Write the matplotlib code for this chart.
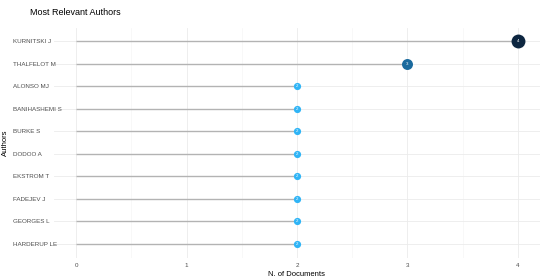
import matplotlib
matplotlib.use("Agg")
import matplotlib.pyplot as plt
import numpy as np
from matplotlib.transforms import ScaledTranslation

authors = ["KURNITSKI J", "THALFELOT M", "ALONSO MJ", "BANIHASHEMI S", "BURKE S",
           "DODOO A", "EKSTROM T", "FADEJEV J", "GEORGES L", "HARDERUP LE"]
docs = [4, 3, 2, 2, 2, 2, 2, 2, 2, 2]
xticks = [0, 1, 2, 3, 4]

plt.rcParams['font.family'] = ['Liberation Sans', 'DejaVu Sans']

fig = plt.figure(figsize=(5.5, 2.79), dpi=100)
ax = fig.add_axes([54/550, 1-257.5/279, 486/550, 230/279])

n = len(authors)
ypos = np.arange(n)[::-1]

def col(v):
    return {4: "#0d2640", 3: "#1a6a9e", 2: "#2fb4f6"}[v]

def msize(v):
    return {4: 10.0, 3: 7.9, 2: 5.2}[v]

for y, v in zip(ypos, docs):
    ax.plot([0, v], [y, y], color="#b3b3b3", lw=1.0, zorder=2, solid_capstyle='butt')
for y, v in zip(ypos, docs):
    ax.plot([v], [y], 'o', ms=msize(v), color=col(v), mec='none', zorder=3)
    ax.text(v, y, str(v), color="white", fontsize=3.2, ha='center', va='center', zorder=4)

ax.set_xlim(-0.2, 4.2)
ax.set_ylim(-0.6, n-1+0.6)
ax.set_xticks(xticks)
ax.set_xticklabels([str(t) for t in xticks])
ax.set_xticks([0.5, 1.5, 2.5, 3.5], minor=True)
ax.set_yticks(ypos)
ax.set_yticklabels(authors)
ax.grid(True, which='major', color="#ebebeb", lw=0.6, zorder=0)
ax.grid(True, which='minor', axis='x', color="#f3f3f3", lw=0.4, zorder=0)
for s in ax.spines.values():
    s.set_visible(False)
ax.tick_params(axis='both', which='both', length=0, labelsize=4.5, labelcolor="#4d4d4d")
ax.tick_params(axis='x', pad=4)
ax.yaxis.set_tick_params(pad=0)
for lab in ax.get_yticklabels():
    lab.set_ha('left')
    lab.set_transform(ax.get_yaxis_transform(which='tick1') + ScaledTranslation(-(54-13)/100, 0, fig.dpi_scale_trans))

ax.set_xlabel("N. of Documents", fontsize=5.5, color="black", labelpad=2)
ax.set_ylabel("Authors", fontsize=5.5, color="black", va='center', ha='center')
ax.yaxis.set_label_coords(-49/486, 0.5)
fig.text(30/550, 1-12.5/279, "Most Relevant Authors", fontsize=6.5, ha='left', va='center')

fig.savefig("out.png", dpi=100)
